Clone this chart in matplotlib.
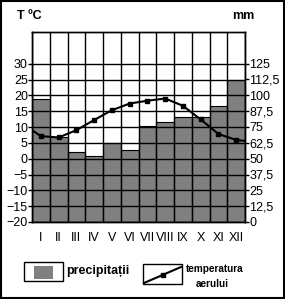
import numpy as np
import matplotlib.pyplot as plt
from matplotlib.patches import Rectangle
from matplotlib.lines import Line2D

months = ['I', 'II', 'III', 'IV', 'V', 'VI', 'VII', 'VIII', 'IX', 'X', 'XI', 'XII']
precip_mm = [97, 67, 55, 52, 62, 57, 76, 79, 83, 83, 91.5, 112]
temp_c = [7.1, 6.7, 9.0, 12.2, 15.3, 17.4, 18.3, 19.0, 16.7, 12.4, 7.8, 5.9]
temp_edges = [9.0, 5.6]  # curve value at the left / right frame

temp_ticks = list(range(-20, 35, 5))
mm_ticks = [0, 12.5, 25, 37.5, 50, 62.5, 75, 87.5, 100, 112.5, 125]
mm_labels = ['0', '12,5', '25', '37,5', '50', '62,5', '75', '87,5', '100', '112,5', '125']

W, H = 285, 299
plt.rcParams['font.family'] = ['Liberation Sans', 'DejaVu Sans']


def px(x, y):
    # pixel coords (from top-left) -> figure fraction
    return x / W, 1 - y / H


fig = plt.figure(figsize=(W / 100, H / 100), dpi=100)
left, top = px(32, 32)
right, bottom = px(245, 222)
ax = fig.add_axes([left, bottom, right - left, top - bottom])
ax2 = ax.twinx()

x = np.arange(12)
ax2.bar(x, precip_mm, width=1.0, color='#808080', edgecolor='black', linewidth=0.8)
ax2.set_ylim(0, 150)
ax2.set_yticks(mm_ticks)
ax2.set_yticklabels(mm_labels)

ax.set_zorder(ax2.get_zorder() + 1)
ax.patch.set_visible(False)

line_x = np.concatenate([[-0.5], x, [11.5]])
line_y = [temp_edges[0]] + temp_c + [temp_edges[1]]
ax.plot(line_x, line_y, color='black', linewidth=1.5)
ax.plot(x, temp_c, 's', color='black', markersize=3)

ax.set_xlim(-0.5, 11.5)
ax.set_ylim(-20, 40)
ax.set_yticks(temp_ticks)
ax.set_xticks(x)
ax.set_xticklabels(months)
ax.set_xticks(np.arange(-0.5, 12, 1), minor=True)
ax.grid(True, which='minor', axis='x', color='black', linewidth=1)
ax.grid(True, which='major', axis='y', color='black', linewidth=1)

ax.tick_params(axis='x', which='both', length=0, pad=7, labelsize=9)
ax.tick_params(axis='y', length=3, width=1, pad=0, labelsize=9)
ax2.tick_params(axis='y', length=3, width=1, pad=0, labelsize=9)
for a in (ax, ax2):
    for s in a.spines.values():
        s.set_linewidth(1)

fig.text(*px(17, 16), 'T ºC', fontsize=9, fontweight='bold', va='center', ha='left')
fig.text(*px(232, 16), 'mm', fontsize=9, fontweight='bold', va='center', ha='left')

# legend
def rect(x0, y0, x1, y1, **kw):
    fx0, fy1 = px(x0, y1)
    fx1, fy0 = px(x1, y0)
    fig.add_artist(Rectangle((fx0, fy1), fx1 - fx0, fy0 - fy1,
                             transform=fig.transFigure, **kw))

rect(24, 262, 63, 281, facecolor='white', edgecolor='black', linewidth=1)
rect(34, 266, 53, 279, facecolor='#808080', edgecolor='none')
fig.text(*px(66, 271), 'precipitații', fontsize=9, fontweight='bold', va='center', ha='left')

rect(143, 264, 182, 284, facecolor='white', edgecolor='black', linewidth=1)
lx0, ly0 = px(144, 283)
lx1, ly1 = px(181, 267)
fig.add_artist(Line2D([lx0, lx1], [ly0, ly1], transform=fig.transFigure,
                      color='black', linewidth=1.5))
fig.add_artist(Line2D([(lx0 + lx1) / 2], [(ly0 + ly1) / 2], transform=fig.transFigure,
                      marker='s', markersize=3, color='black'))
fig.text(*px(186, 269), 'temperatura', fontsize=7.2, fontweight='bold', va='center',
         ha='left')
fig.text(*px(212, 284), 'aerului', fontsize=7.2, fontweight='bold', va='center',
         ha='center')

# outer frame
rect(0.5, 0.5, W - 1, H - 1, facecolor='none', edgecolor='black', linewidth=1.5)

fig.savefig('out.png', dpi=100)
